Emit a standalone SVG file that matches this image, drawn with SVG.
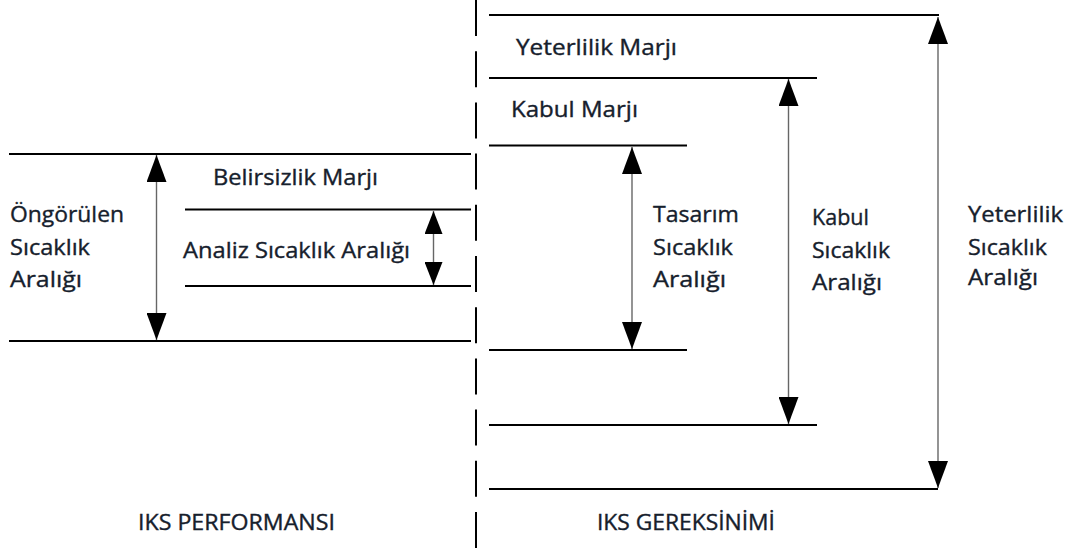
<svg xmlns="http://www.w3.org/2000/svg" width="1070" height="552" viewBox="0 0 1070 552">
<style>
.lvl{stroke:#000;stroke-width:2;fill:none}
.div{stroke:#000;stroke-width:2;stroke-dasharray:36 15.2;fill:none}
.arr{stroke:#666;stroke-width:1.4;fill:none;marker-start:url(#ah);marker-end:url(#ah)}
.sarr{stroke:#666;stroke-width:1.4;fill:none;marker-start:url(#ahs);marker-end:url(#ahs)}
text{font-family:"Open Sans","Noto Sans",sans-serif;font-size:21px;fill:#16202c;stroke:#16202c;stroke-width:0.35}
</style>
<defs>
<marker id="ah" viewBox="0 0 27 20" refX="27" refY="10" markerWidth="27" markerHeight="20" markerUnits="userSpaceOnUse" orient="auto-start-reverse">
<path d="M0,0 L27,10 L0,20 Z" fill="#000"/>
</marker>
<marker id="ahs" viewBox="0 0 23 18" refX="23" refY="9" markerWidth="23" markerHeight="18" markerUnits="userSpaceOnUse" orient="auto-start-reverse">
<path d="M0,0 L23,9 L0,18 Z" fill="#000"/>
</marker>
</defs>
<g id="divider">
<line class="div" x1="476" y1="0" x2="476" y2="552"/>
</g>
<g id="performance">
<line class="lvl" x1="9" y1="154" x2="471" y2="154"/>
<line class="lvl" x1="185" y1="209.5" x2="471" y2="209.5"/>
<line class="lvl" x1="185" y1="286" x2="471" y2="286"/>
<line class="lvl" x1="9" y1="341" x2="471" y2="341"/>
</g>
<g id="requirement">
<line class="lvl" x1="489" y1="15" x2="939" y2="15"/>
<line class="lvl" x1="489" y1="78" x2="817" y2="78"/>
<line class="lvl" x1="489" y1="145.5" x2="687" y2="145.5"/>
<line class="lvl" x1="489" y1="350" x2="687" y2="350"/>
<line class="lvl" x1="489" y1="425" x2="817" y2="425"/>
<line class="lvl" x1="489" y1="489" x2="938" y2="489"/>
</g>
<g id="connectors">
<line class="arr" x1="156.5" y1="155" x2="156.5" y2="340"/>
<line class="sarr" x1="433.5" y1="211" x2="433.5" y2="285"/>
<line class="arr" x1="632" y1="147" x2="632" y2="349"/>
<line class="arr" x1="788.5" y1="79" x2="788.5" y2="424"/>
<line class="arr" x1="938" y1="17" x2="938" y2="488"/>
</g>
<g id="label-yeterlilik-marji"><text x="516" y="55" textLength="161" lengthAdjust="spacingAndGlyphs">Yeterlilik Marjı</text></g>
<g id="label-kabul-marji"><text x="511" y="117" textLength="127" lengthAdjust="spacingAndGlyphs">Kabul Marjı</text></g>
<g id="label-belirsizlik"><text x="213" y="185" textLength="165" lengthAdjust="spacingAndGlyphs">Belirsizlik Marjı</text></g>
<g id="label-analiz"><text x="183" y="258" textLength="227" lengthAdjust="spacingAndGlyphs">Analiz Sıcaklık Aralığı</text></g>
<g id="label-ongorulen">
<text x="10" y="222" textLength="114" lengthAdjust="spacingAndGlyphs">Öngörülen</text>
<text x="10" y="255" textLength="80" lengthAdjust="spacingAndGlyphs">Sıcaklık</text>
<text x="10" y="287" textLength="72" lengthAdjust="spacingAndGlyphs">Aralığı</text>
</g>
<g id="label-tasarim">
<text x="653" y="222" textLength="86" lengthAdjust="spacingAndGlyphs">Tasarım</text>
<text x="653" y="255" textLength="80" lengthAdjust="spacingAndGlyphs">Sıcaklık</text>
<text x="653" y="287" textLength="73" lengthAdjust="spacingAndGlyphs">Aralığı</text>
</g>
<g id="label-kabul">
<text x="812" y="225" textLength="57" lengthAdjust="spacingAndGlyphs">Kabul</text>
<text x="812" y="258" textLength="78" lengthAdjust="spacingAndGlyphs">Sıcaklık</text>
<text x="812" y="290" textLength="70" lengthAdjust="spacingAndGlyphs">Aralığı</text>
</g>
<g id="label-yeterlilik">
<text x="968" y="222" textLength="95" lengthAdjust="spacingAndGlyphs">Yeterlilik</text>
<text x="968" y="255" textLength="79" lengthAdjust="spacingAndGlyphs">Sıcaklık</text>
<text x="968" y="285" textLength="70" lengthAdjust="spacingAndGlyphs">Aralığı</text>
</g>
<g id="label-performans"><text x="138" y="530" textLength="197" lengthAdjust="spacingAndGlyphs">IKS PERFORMANSI</text></g>
<g id="label-gereksinim"><text x="597" y="530" textLength="178" lengthAdjust="spacingAndGlyphs">IKS GEREKSİNİMİ</text></g>
</svg>
